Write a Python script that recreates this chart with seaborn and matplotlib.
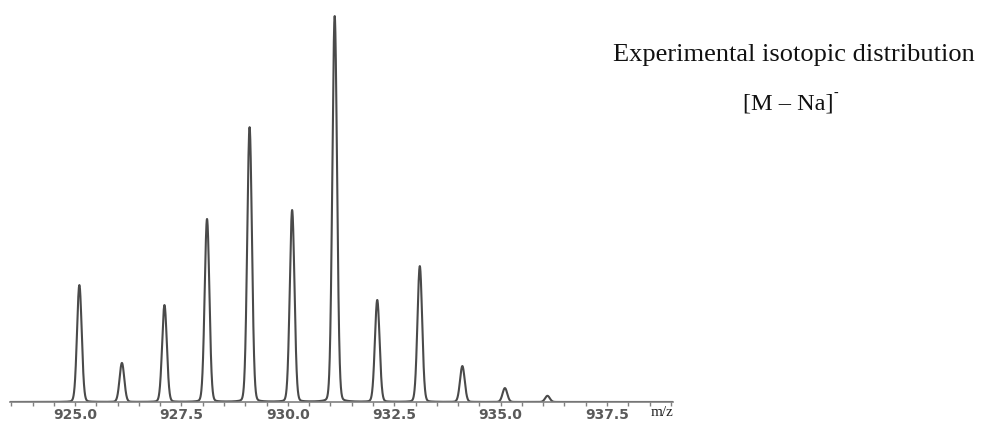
import numpy as np
import pandas as pd
import seaborn as sns
import matplotlib.pyplot as plt

# Isotopic peaks of the [M - Na]- ion (m/z, relative intensity %)
peak_mz = [925.1, 926.1, 927.1, 928.1, 929.1, 930.1, 931.1, 932.1, 933.1, 934.1, 935.1, 936.1]
peak_int = [30.3, 10.1, 25.1, 47.4, 71.2, 49.7, 100.0, 26.4, 35.2, 9.3, 3.6, 1.6]

tick_values = [925.0, 927.5, 930.0, 932.5, 935.0, 937.5]
tick_labels = ["925.0", "927.5", "930.0", "932.5", "935.0", "937.5"]

# Profile spectrum: each centroid rendered with a narrow instrument line shape
grid = np.linspace(923.45, 939.05, 6000)
width = 0.055
profile = np.zeros_like(grid)
for mz, inten in zip(peak_mz, peak_int):
    g = np.exp(-0.5 * ((grid - mz) / width) ** 2)
    l = 1.0 / (1.0 + ((grid - mz) / (width * 1.2)) ** 2)
    profile += inten * (0.94 * g + 0.06 * l)
spectrum = pd.DataFrame({"mz": grid, "intensity": profile})

sns.set_theme(style="white")
fig = plt.figure(figsize=(9.83, 4.23), dpi=100)
ax = fig.add_axes([10 / 983, 21 / 423, 663 / 983, 392 / 423])

sns.lineplot(data=spectrum, x="mz", y="intensity", ax=ax,
             color="#4a4a4a", linewidth=1.5)

ax.set_xlim(923.47, 939.05)
ax.set_ylim(0, 101.6)
for side in ("top", "right", "left"):
    ax.spines[side].set_visible(False)
ax.spines["bottom"].set_color("#808080")
ax.spines["bottom"].set_linewidth(1.2)

ax.set_yticks([])
ax.set_xticks(tick_values)
ax.set_xticklabels(tick_labels, fontsize=10, color="#5a5a5a",
                   fontweight="bold", family="DejaVu Sans")
ax.set_xticks(np.arange(923.5, 939.01, 0.5), minor=True)
ax.tick_params(axis="x", which="both", direction="out", bottom=True,
               length=3, width=1, color="#808080", pad=1)
ax.set_xlabel("")
ax.set_ylabel("")

fig.text(662 / 983, 1 - 412 / 423, "m/z", family="Liberation Serif",
         fontsize=11, ha="center", va="center", color="#222222")

fig.text(794 / 983, 1 - 55 / 423, "Experimental isotopic distribution",
         family="Liberation Serif", fontsize=19, ha="center", va="center",
         color="#111111")
fig.text(788 / 983, 1 - 104 / 423, "[M – Na]",
         family="Liberation Serif", fontsize=17.5, ha="center", va="center",
         color="#111111")
fig.text(836 / 983, 1 - 93 / 423, "-",
         family="Liberation Serif", fontsize=10, ha="center", va="center",
         color="#111111")

fig.savefig("out.png", dpi=100, facecolor="white")
